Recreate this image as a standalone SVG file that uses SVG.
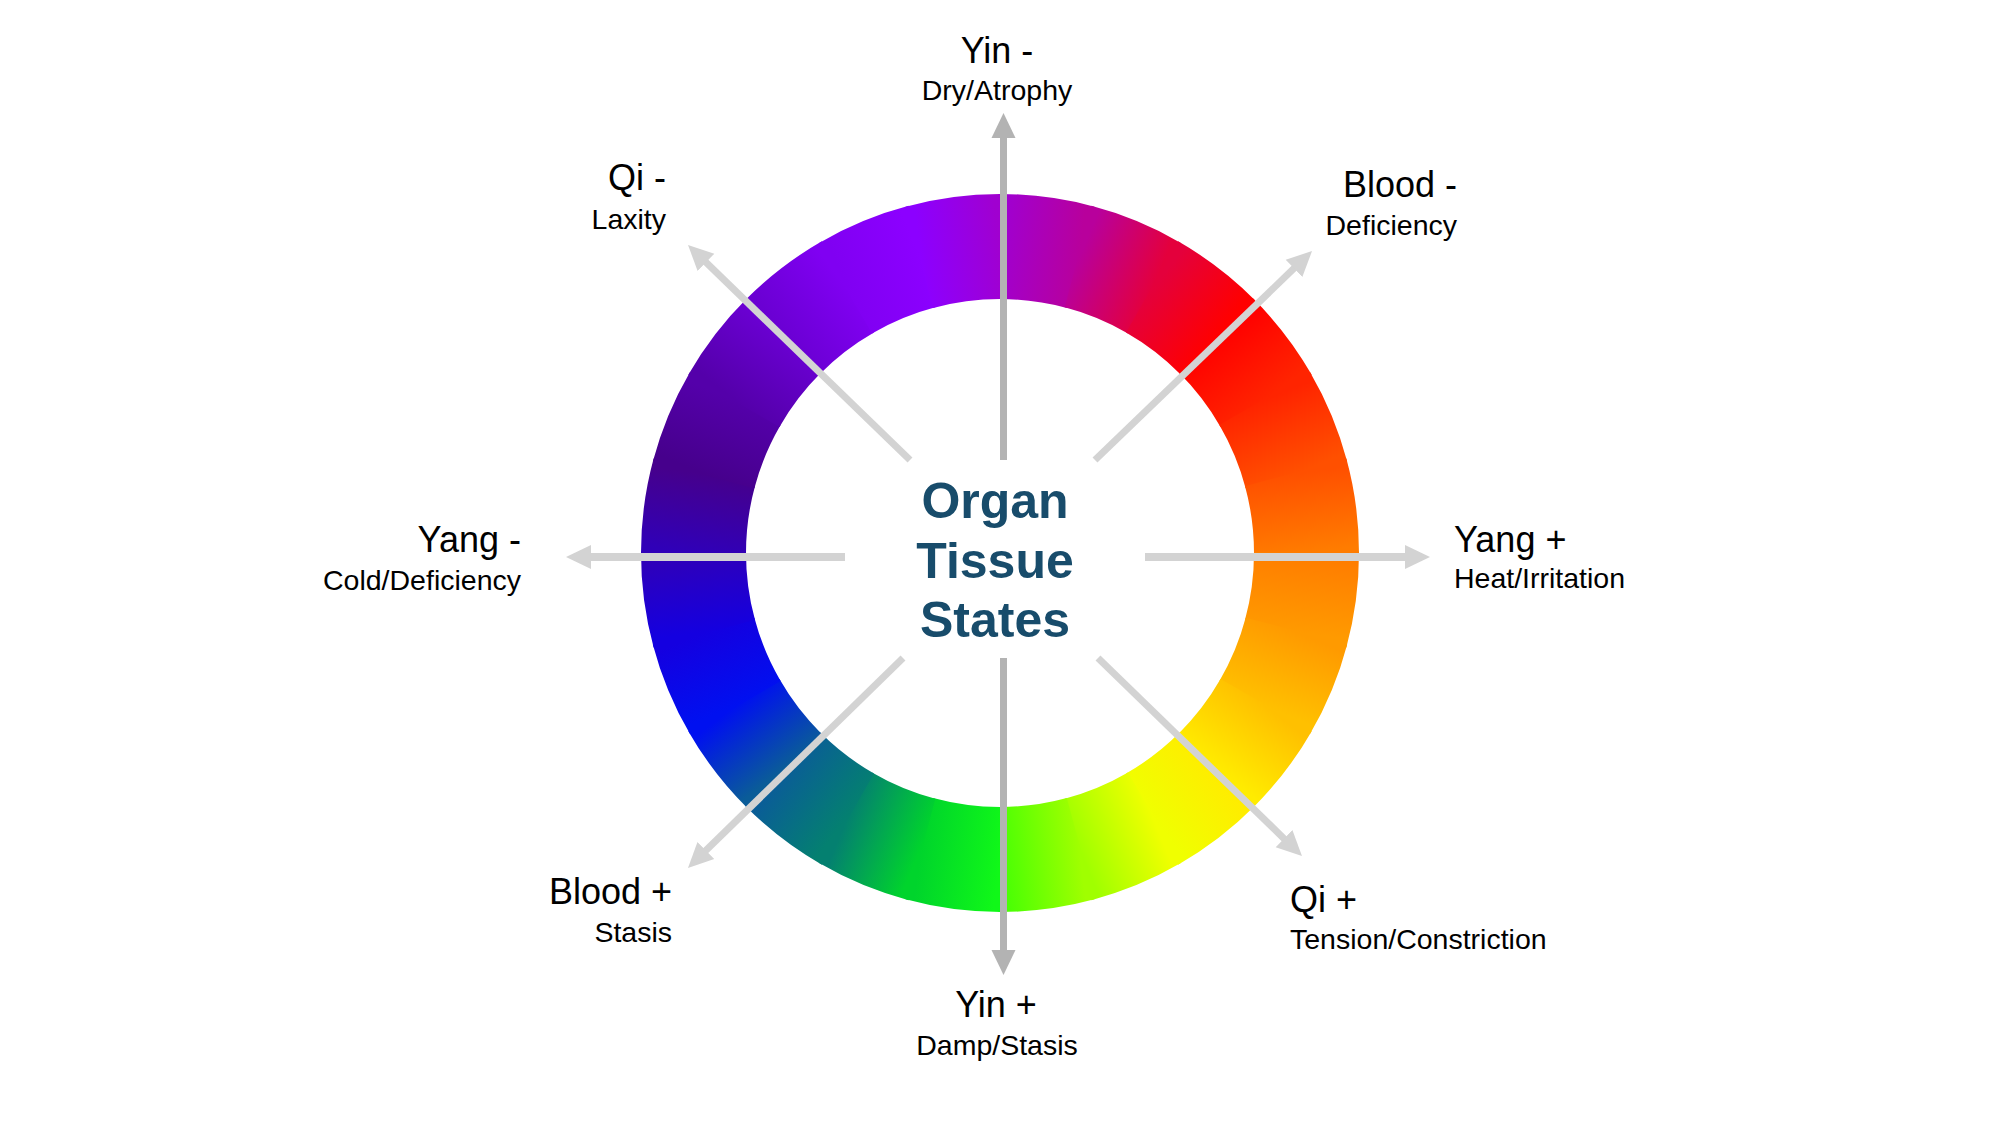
<svg xmlns="http://www.w3.org/2000/svg" width="2000" height="1125" viewBox="0 0 2000 1125">
<style>
.lbl{font-family:"Liberation Sans",Arial,sans-serif;font-size:36px;fill:#000}
.sub{font-family:"Liberation Sans",Arial,sans-serif;font-size:28.5px;fill:#000}
.ctr{font-family:"Liberation Sans",Arial,sans-serif;font-size:50px;font-weight:bold;fill:#184c6b;text-anchor:middle}
.dark{stroke:#b3b3b3;stroke-width:7;fill:none}
.light{stroke:#d3d3d3;stroke-width:7;fill:none}
</style>
<defs>
<path id="seg" d="M951.59,197.28 A359,359 0 0,1 1048.41,197.28 L1034.25,301.32 A254,254 0 0,0 965.75,301.32 Z"/>
<linearGradient id="gb" gradientUnits="userSpaceOnUse" x1="960" y1="0" x2="1040" y2="0"/>
<linearGradient id="g0" href="#gb"><stop offset="0" stop-color="#a000d0"/><stop offset="1" stop-color="#b8009c"/></linearGradient>
<linearGradient id="g1" href="#gb"><stop offset="0" stop-color="#b8009c"/><stop offset="1" stop-color="#e4003c"/></linearGradient>
<linearGradient id="g2" href="#gb"><stop offset="0" stop-color="#e4003c"/><stop offset="1" stop-color="#ff0000"/></linearGradient>
<linearGradient id="g3" href="#gb"><stop offset="0" stop-color="#ff0000"/><stop offset="1" stop-color="#ff2400"/></linearGradient>
<linearGradient id="g4" href="#gb"><stop offset="0" stop-color="#ff2400"/><stop offset="1" stop-color="#ff5000"/></linearGradient>
<linearGradient id="g5" href="#gb"><stop offset="0" stop-color="#ff5000"/><stop offset="1" stop-color="#ff7c00"/></linearGradient>
<linearGradient id="g6" href="#gb"><stop offset="0" stop-color="#ff7c00"/><stop offset="1" stop-color="#ff9a00"/></linearGradient>
<linearGradient id="g7" href="#gb"><stop offset="0" stop-color="#ff9a00"/><stop offset="1" stop-color="#ffc000"/></linearGradient>
<linearGradient id="g8" href="#gb"><stop offset="0" stop-color="#ffc000"/><stop offset="1" stop-color="#ffec00"/></linearGradient>
<linearGradient id="g9" href="#gb"><stop offset="0" stop-color="#ffec00"/><stop offset="1" stop-color="#f0ff00"/></linearGradient>
<linearGradient id="g10" href="#gb"><stop offset="0" stop-color="#f0ff00"/><stop offset="1" stop-color="#a0ff00"/></linearGradient>
<linearGradient id="g11" href="#gb"><stop offset="0" stop-color="#a0ff00"/><stop offset="1" stop-color="#48ff04"/></linearGradient>
<linearGradient id="g12" href="#gb"><stop offset="0" stop-color="#10f818"/><stop offset="1" stop-color="#00d42c"/></linearGradient>
<linearGradient id="g13" href="#gb"><stop offset="0" stop-color="#00d42c"/><stop offset="1" stop-color="#048070"/></linearGradient>
<linearGradient id="g14" href="#gb"><stop offset="0" stop-color="#048070"/><stop offset="1" stop-color="#0a5c98"/></linearGradient>
<linearGradient id="g15" href="#gb"><stop offset="0" stop-color="#0a5c98"/><stop offset="1" stop-color="#0010f0"/></linearGradient>
<linearGradient id="g16" href="#gb"><stop offset="0" stop-color="#0010f0"/><stop offset="1" stop-color="#1400e0"/></linearGradient>
<linearGradient id="g17" href="#gb"><stop offset="0" stop-color="#1400e0"/><stop offset="1" stop-color="#3000b8"/></linearGradient>
<linearGradient id="g18" href="#gb"><stop offset="0" stop-color="#3000b8"/><stop offset="1" stop-color="#46008c"/></linearGradient>
<linearGradient id="g19" href="#gb"><stop offset="0" stop-color="#46008c"/><stop offset="1" stop-color="#5400aa"/></linearGradient>
<linearGradient id="g20" href="#gb"><stop offset="0" stop-color="#5400aa"/><stop offset="1" stop-color="#6a00d2"/></linearGradient>
<linearGradient id="g21" href="#gb"><stop offset="0" stop-color="#6a00d2"/><stop offset="1" stop-color="#8000f2"/></linearGradient>
<linearGradient id="g22" href="#gb"><stop offset="0" stop-color="#8000f2"/><stop offset="1" stop-color="#8c00ff"/></linearGradient>
<linearGradient id="g23" href="#gb"><stop offset="0" stop-color="#8c00ff"/><stop offset="1" stop-color="#a000d0"/></linearGradient>
<marker id="hd" markerUnits="userSpaceOnUse" markerWidth="26" markerHeight="26" viewBox="0 0 26 26" refX="4" refY="13" orient="auto"><path d="M0,1 L25,13 L0,25 Z" fill="#b3b3b3"/></marker>
<marker id="hl" markerUnits="userSpaceOnUse" markerWidth="26" markerHeight="26" viewBox="0 0 26 26" refX="4" refY="13" orient="auto"><path d="M0,1 L25,13 L0,25 Z" fill="#d3d3d3"/></marker>
</defs>
<rect width="2000" height="1125" fill="#fff"/>
<g id="ring">
<use href="#seg" fill="url(#g0)" transform="rotate(7.5 1000 553)"/>
<use href="#seg" fill="url(#g1)" transform="rotate(22.5 1000 553)"/>
<use href="#seg" fill="url(#g2)" transform="rotate(37.5 1000 553)"/>
<use href="#seg" fill="url(#g3)" transform="rotate(52.5 1000 553)"/>
<use href="#seg" fill="url(#g4)" transform="rotate(67.5 1000 553)"/>
<use href="#seg" fill="url(#g5)" transform="rotate(82.5 1000 553)"/>
<use href="#seg" fill="url(#g6)" transform="rotate(97.5 1000 553)"/>
<use href="#seg" fill="url(#g7)" transform="rotate(112.5 1000 553)"/>
<use href="#seg" fill="url(#g8)" transform="rotate(127.5 1000 553)"/>
<use href="#seg" fill="url(#g9)" transform="rotate(142.5 1000 553)"/>
<use href="#seg" fill="url(#g10)" transform="rotate(157.5 1000 553)"/>
<use href="#seg" fill="url(#g11)" transform="rotate(172.5 1000 553)"/>
<use href="#seg" fill="url(#g12)" transform="rotate(187.5 1000 553)"/>
<use href="#seg" fill="url(#g13)" transform="rotate(202.5 1000 553)"/>
<use href="#seg" fill="url(#g14)" transform="rotate(217.5 1000 553)"/>
<use href="#seg" fill="url(#g15)" transform="rotate(232.5 1000 553)"/>
<use href="#seg" fill="url(#g16)" transform="rotate(247.5 1000 553)"/>
<use href="#seg" fill="url(#g17)" transform="rotate(262.5 1000 553)"/>
<use href="#seg" fill="url(#g18)" transform="rotate(277.5 1000 553)"/>
<use href="#seg" fill="url(#g19)" transform="rotate(292.5 1000 553)"/>
<use href="#seg" fill="url(#g20)" transform="rotate(307.5 1000 553)"/>
<use href="#seg" fill="url(#g21)" transform="rotate(322.5 1000 553)"/>
<use href="#seg" fill="url(#g22)" transform="rotate(337.5 1000 553)"/>
<use href="#seg" fill="url(#g23)" transform="rotate(352.5 1000 553)"/>
</g>
<g id="connectors">
<line class="dark" x1="1003.5" y1="460" x2="1003.5" y2="134" marker-end="url(#hd)"/>
<line class="dark" x1="1003.5" y1="658" x2="1003.5" y2="954" marker-end="url(#hd)"/>
<line class="light" style="stroke-width:8" x1="845" y1="557" x2="587" y2="557" marker-end="url(#hl)"/>
<line class="light" style="stroke-width:8" x1="1145" y1="557" x2="1409" y2="557" marker-end="url(#hl)"/>
<line class="light" x1="910" y1="460" x2="703.1" y2="259.6" marker-end="url(#hl)"/>
<line class="light" x1="1095" y1="460" x2="1296.9" y2="265.6" marker-end="url(#hl)"/>
<line class="light" x1="903" y1="658" x2="703" y2="853.3" marker-end="url(#hl)"/>
<line class="light" x1="1098" y1="658" x2="1286.9" y2="841.4" marker-end="url(#hl)"/>
</g>
<g id="center">
<text class="ctr" x="995" y="518">Organ</text>
<text class="ctr" x="995" y="578">Tissue</text>
<text class="ctr" x="995" y="637">States</text>
</g>
<g id="yin-minus"><text class="lbl" x="997" y="63" text-anchor="middle">Yin -</text><text class="sub" x="997" y="100" text-anchor="middle">Dry/Atrophy</text></g>
<g id="qi-minus"><text class="lbl" x="666" y="190" text-anchor="end">Qi -</text><text class="sub" x="666" y="229" text-anchor="end">Laxity</text></g>
<g id="blood-minus"><text class="lbl" x="1457" y="197" text-anchor="end">Blood -</text><text class="sub" x="1457" y="235" text-anchor="end">Deficiency</text></g>
<g id="yang-minus"><text class="lbl" x="521" y="552" text-anchor="end">Yang -</text><text class="sub" x="521" y="590" text-anchor="end">Cold/Deficiency</text></g>
<g id="yang-plus"><text class="lbl" x="1454" y="552">Yang +</text><text class="sub" x="1454" y="588">Heat/Irritation</text></g>
<g id="blood-plus"><text class="lbl" x="672" y="904" text-anchor="end">Blood +</text><text class="sub" x="672" y="942" text-anchor="end">Stasis</text></g>
<g id="qi-plus"><text class="lbl" x="1290" y="912">Qi +</text><text class="sub" x="1290" y="949">Tension/Constriction</text></g>
<g id="yin-plus"><text class="lbl" x="996" y="1017" text-anchor="middle">Yin +</text><text class="sub" x="997" y="1055" text-anchor="middle">Damp/Stasis</text></g>
</svg>
